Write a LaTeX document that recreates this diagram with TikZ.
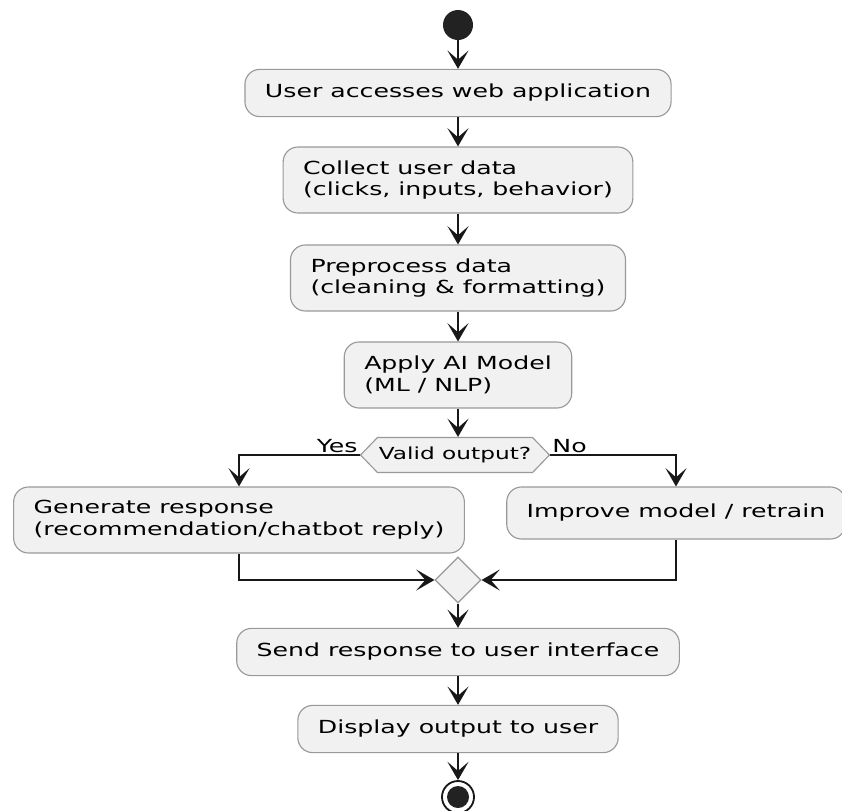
\documentclass[tikz,border=0pt]{standalone}
\usepackage{fontspec}
\setmainfont[FakeStretch=1.4]{DejaVu Sans}
\usetikzlibrary{arrows.meta,shapes.geometric,shapes.symbols}

\definecolor{boxfill}{HTML}{F1F1F1}
\definecolor{boxline}{HTML}{999999}
\definecolor{linecol}{HTML}{181818}
\definecolor{dotfill}{HTML}{222222}

\tikzset{
  act/.style={draw=boxline, fill=boxfill, line width=0.8pt, rounded corners=0.37cm,
    inner xsep=0.5cm, minimum height=1.18cm, align=left,
    font=\fontsize{12.8}{15.5}\selectfont},
  acttwo/.style={act, minimum height=1.65cm},
  check/.style={draw=boxline, fill=boxfill, line width=0.8pt, shape=signal,
    signal to=east and west, signal pointer angle=92, inner xsep=1pt,
    minimum height=0.875cm, font=\fontsize{11.8}{14}\selectfont},
  merge/.style={draw=boxline, fill=boxfill, line width=0.8pt, diamond,
    minimum size=1.15cm, inner sep=0pt},
  flow/.style={draw=linecol, line width=1.1pt, -{Stealth[length=13pt,width=15pt,inset=6.5pt]}},
  lbl/.style={font=\fontsize{12.8}{15}\selectfont, inner sep=1pt}
}

\begin{document}
\begin{tikzpicture}[x=0.025cm, y=-0.025cm]
  \useasboundingbox (0,0) rectangle (842,810);

  \node[circle, fill=dotfill, minimum size=0.75cm, inner sep=0pt] (start) at (458,25) {};
  \node[act] (access) at (458,93) {User accesses web application};
  \node[acttwo] (collect) at (458,180) {Collect user data\\(clicks, inputs, behavior)};
  \node[acttwo] (prep) at (458,278) {Preprocess data\\(cleaning \& formatting)};
  \node[acttwo] (model) at (458,375) {Apply AI Model\\(ML / NLP)};
  \node[check] (valid) at (455,455) {Valid output?};
  \node[acttwo] (gen) at (239,520) {Generate response\\(recommendation/chatbot reply)};
  \node[act, minimum height=1.3cm] (retrain) at (676,513) {Improve model / retrain};
  \node[merge] (join) at (458,580) {};
  \node[act] (send) at (458,652) {Send response to user interface};
  \node[act] (show) at (458,729) {Display output to user};
  \node[circle, draw=linecol, fill=white, line width=1.3pt, minimum size=0.8cm, inner sep=0pt] (stop) at (458,797) {};
  \node[circle, fill=dotfill, minimum size=0.55cm, inner sep=0pt] (stopdot) at (stop) {};

  \draw[flow] (start) -- (access);
  \draw[flow] (access) -- (collect);
  \draw[flow] (collect) -- (prep);
  \draw[flow] (prep) -- (model);
  \draw[flow] (model) -- (model |- valid.north);
  \draw[flow] (valid.west) -| node[pos=0, lbl, above left] {Yes} (gen);
  \draw[flow] (valid.east) -| node[pos=0, lbl, above right] {No} (retrain);
  \draw[flow] (gen) |- (join);
  \draw[flow] (retrain) |- (join);
  \draw[flow] (join) -- (send);
  \draw[flow] (send) -- (show);
  \draw[flow] (show) -- (stop);
\end{tikzpicture}
\end{document}
